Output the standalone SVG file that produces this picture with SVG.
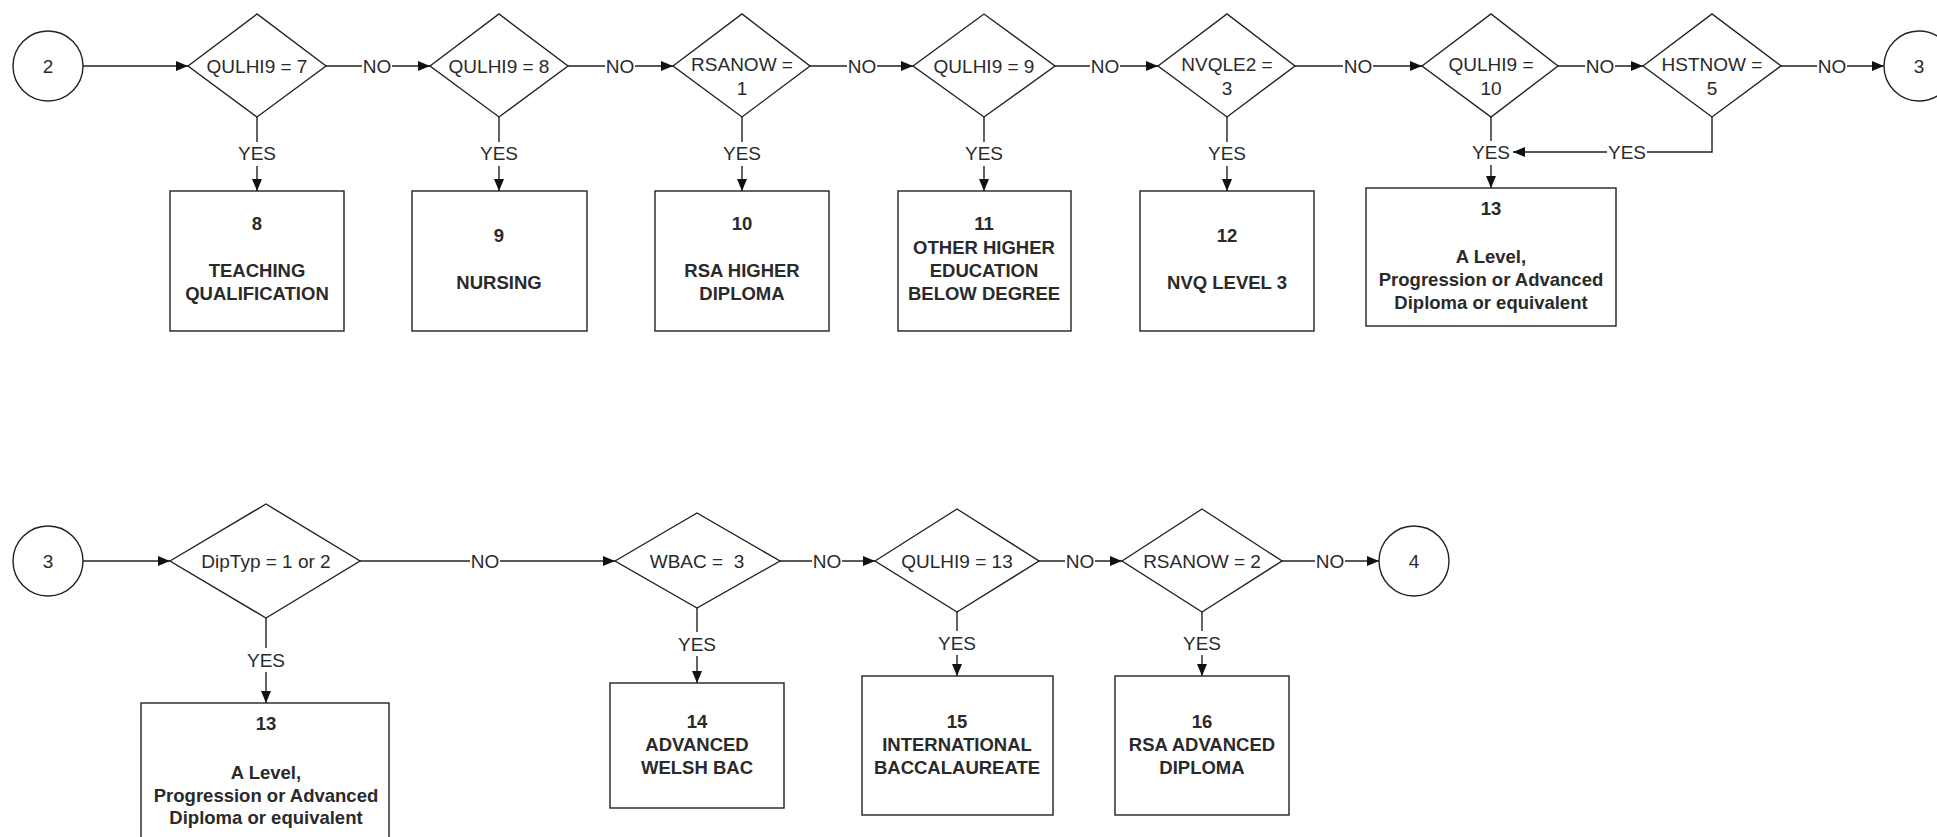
<svg xmlns="http://www.w3.org/2000/svg" width="1937" height="837" viewBox="0 0 1937 837">
<defs>
<marker id="arr" viewBox="0 0 12 10" refX="12" refY="5" markerWidth="12" markerHeight="10" markerUnits="userSpaceOnUse" orient="auto">
<path d="M0,0 L12,5 L0,10 z" fill="#111"/>
</marker>
<style>
.sh{fill:#fff;stroke:#222;stroke-width:1.4}
.c{fill:none;stroke:#222;stroke-width:1.4}
.a{marker-end:url(#arr)}
.bg{fill:#fff;stroke:none}
.t{font-family:"Liberation Sans",Arial,sans-serif;font-size:19px;fill:#2a2a2a;text-anchor:middle}
.b{font-family:"Liberation Sans",Arial,sans-serif;font-size:18.5px;font-weight:bold;fill:#2a2a2a;text-anchor:middle}
</style>
</defs>
<rect width="1937" height="837" fill="#fff"/>

<g id="connectors">
<line class="c a" x1="83" y1="66" x2="188" y2="66"/>
<line class="c a" x1="326" y1="66" x2="430" y2="66"/>
<line class="c a" x1="568" y1="66" x2="673" y2="66"/>
<line class="c a" x1="810" y1="66" x2="913" y2="66"/>
<line class="c a" x1="1055" y1="66" x2="1158" y2="66"/>
<line class="c a" x1="1295" y1="66" x2="1422" y2="66"/>
<line class="c a" x1="1558" y1="66" x2="1643" y2="66"/>
<line class="c a" x1="1781" y1="66" x2="1884" y2="66"/>
<line class="c a" x1="257" y1="117" x2="257" y2="191"/>
<line class="c a" x1="499" y1="117" x2="499" y2="191"/>
<line class="c a" x1="742" y1="117" x2="742" y2="191"/>
<line class="c a" x1="984" y1="117" x2="984" y2="191"/>
<line class="c a" x1="1227" y1="117" x2="1227" y2="191"/>
<line class="c a" x1="1491" y1="117" x2="1491" y2="188"/>
<path class="c a" d="M1712,117 V152 H1513"/>
<line class="c a" x1="83" y1="561" x2="170" y2="561"/>
<line class="c a" x1="360" y1="561" x2="615" y2="561"/>
<line class="c a" x1="780" y1="561" x2="875" y2="561"/>
<line class="c a" x1="1039" y1="561" x2="1122" y2="561"/>
<line class="c a" x1="1282" y1="561" x2="1379" y2="561"/>
<line class="c a" x1="266" y1="618" x2="266" y2="703"/>
<line class="c a" x1="697" y1="608" x2="697" y2="683"/>
<line class="c a" x1="957" y1="612" x2="957" y2="676"/>
<line class="c a" x1="1202" y1="612" x2="1202" y2="676"/>
<rect class="bg" x="362" y="57" width="30" height="18"/>
<rect class="bg" x="605" y="57" width="30" height="18"/>
<rect class="bg" x="847" y="57" width="30" height="18"/>
<rect class="bg" x="1090" y="57" width="30" height="18"/>
<rect class="bg" x="1343" y="57" width="30" height="18"/>
<rect class="bg" x="1585" y="57" width="30" height="18"/>
<rect class="bg" x="1817" y="57" width="30" height="18"/>
<rect class="bg" x="237" y="142" width="40" height="24"/>
<rect class="bg" x="479" y="142" width="40" height="24"/>
<rect class="bg" x="722" y="142" width="40" height="24"/>
<rect class="bg" x="964" y="142" width="40" height="24"/>
<rect class="bg" x="1207" y="142" width="40" height="24"/>
<rect class="bg" x="1471" y="141" width="40" height="24"/>
<rect class="bg" x="1607" y="143" width="40" height="18"/>
<rect class="bg" x="470" y="552" width="30" height="18"/>
<rect class="bg" x="812" y="552" width="30" height="18"/>
<rect class="bg" x="1065" y="552" width="30" height="18"/>
<rect class="bg" x="1315" y="552" width="30" height="18"/>
<rect class="bg" x="246" y="648" width="40" height="24"/>
<rect class="bg" x="677" y="632" width="40" height="24"/>
<rect class="bg" x="937" y="631" width="40" height="24"/>
<rect class="bg" x="1182" y="631" width="40" height="24"/>
<text class="t" x="377" y="73">NO</text>
<text class="t" x="620" y="73">NO</text>
<text class="t" x="862" y="73">NO</text>
<text class="t" x="1105" y="73">NO</text>
<text class="t" x="1358" y="73">NO</text>
<text class="t" x="1600" y="73">NO</text>
<text class="t" x="1832" y="73">NO</text>
<text class="t" x="257" y="160">YES</text>
<text class="t" x="499" y="160">YES</text>
<text class="t" x="742" y="160">YES</text>
<text class="t" x="984" y="160">YES</text>
<text class="t" x="1227" y="160">YES</text>
<text class="t" x="1491" y="159">YES</text>
<text class="t" x="1627" y="159">YES</text>
<text class="t" x="485" y="568">NO</text>
<text class="t" x="827" y="568">NO</text>
<text class="t" x="1080" y="568">NO</text>
<text class="t" x="1330" y="568">NO</text>
<text class="t" x="266" y="667">YES</text>
<text class="t" x="697" y="651">YES</text>
<text class="t" x="957" y="650">YES</text>
<text class="t" x="1202" y="650">YES</text>
</g>

<g id="c2"><circle class="sh" cx="48" cy="66" r="35"/><text class="t" x="48" y="73">2</text></g>
<g id="d1"><polygon class="sh" points="188,66 257,14 326,66 257,117"/><text class="t" x="257" y="73">QULHI9 = 7</text></g>
<g id="d2"><polygon class="sh" points="430,66 499,14 568,66 499,117"/><text class="t" x="499" y="73">QULHI9 = 8</text></g>
<g id="d3"><polygon class="sh" points="673,66 742,14 810,66 742,117"/><text class="t" x="742" y="71">RSANOW =</text><text class="t" x="742" y="95">1</text></g>
<g id="d4"><polygon class="sh" points="913,66 984,14 1055,66 984,117"/><text class="t" x="984" y="73">QULHI9 = 9</text></g>
<g id="d5"><polygon class="sh" points="1158,66 1227,14 1295,66 1227,117"/><text class="t" x="1227" y="71">NVQLE2 =</text><text class="t" x="1227" y="95">3</text></g>
<g id="d6"><polygon class="sh" points="1422,66 1491,14 1558,66 1491,117"/><text class="t" x="1491" y="71">QULHI9 =</text><text class="t" x="1491" y="95">10</text></g>
<g id="d7"><polygon class="sh" points="1643,66 1712,14 1781,66 1712,117"/><text class="t" x="1712" y="71">HSTNOW =</text><text class="t" x="1712" y="95">5</text></g>
<g id="c3a"><circle class="sh" cx="1919" cy="66" r="35"/><text class="t" x="1919" y="73">3</text></g>

<g id="b8"><rect class="sh" x="170" y="191" width="174" height="140"/><text class="b" x="257" y="230">8</text><text class="b" x="257" y="277">TEACHING</text><text class="b" x="257" y="300">QUALIFICATION</text></g>
<g id="b9"><rect class="sh" x="412" y="191" width="175" height="140"/><text class="b" x="499" y="242">9</text><text class="b" x="499" y="289">NURSING</text></g>
<g id="b10"><rect class="sh" x="655" y="191" width="174" height="140"/><text class="b" x="742" y="230">10</text><text class="b" x="742" y="277">RSA HIGHER</text><text class="b" x="742" y="300">DIPLOMA</text></g>
<g id="b11"><rect class="sh" x="898" y="191" width="173" height="140"/><text class="b" x="984" y="230">11</text><text class="b" x="984" y="254">OTHER HIGHER</text><text class="b" x="984" y="277">EDUCATION</text><text class="b" x="984" y="300">BELOW DEGREE</text></g>
<g id="b12"><rect class="sh" x="1140" y="191" width="174" height="140"/><text class="b" x="1227" y="242">12</text><text class="b" x="1227" y="289">NVQ LEVEL 3</text></g>
<g id="b13a"><rect class="sh" x="1366" y="188" width="250" height="138"/><text class="b" x="1491" y="215">13</text><text class="b" x="1491" y="263">A Level,</text><text class="b" x="1491" y="286">Progression or Advanced</text><text class="b" x="1491" y="309">Diploma or equivalent</text></g>

<g id="c3b"><circle class="sh" cx="48" cy="561" r="35"/><text class="t" x="48" y="568">3</text></g>
<g id="d8"><polygon class="sh" points="170,561 266,504 360,561 266,618"/><text class="t" x="266" y="568">DipTyp = 1 or 2</text></g>
<g id="d9"><polygon class="sh" points="615,561 697,513 780,561 697,608"/><text class="t" x="697" y="568" xml:space="preserve">WBAC =  3</text></g>
<g id="d10"><polygon class="sh" points="875,561 957,509 1039,561 957,612"/><text class="t" x="957" y="568">QULHI9 = 13</text></g>
<g id="d11"><polygon class="sh" points="1122,561 1202,509 1282,561 1202,612"/><text class="t" x="1202" y="568">RSANOW = 2</text></g>
<g id="c4"><circle class="sh" cx="1414" cy="561" r="35"/><text class="t" x="1414" y="568">4</text></g>

<g id="b13b"><rect class="sh" x="141" y="703" width="248" height="150"/><text class="b" x="266" y="730">13</text><text class="b" x="266" y="779">A Level,</text><text class="b" x="266" y="802">Progression or Advanced</text><text class="b" x="266" y="824">Diploma or equivalent</text></g>
<g id="b14"><rect class="sh" x="610" y="683" width="174" height="125"/><text class="b" x="697" y="728">14</text><text class="b" x="697" y="751">ADVANCED</text><text class="b" x="697" y="774">WELSH BAC</text></g>
<g id="b15"><rect class="sh" x="862" y="676" width="191" height="139"/><text class="b" x="957" y="728">15</text><text class="b" x="957" y="751">INTERNATIONAL</text><text class="b" x="957" y="774">BACCALAUREATE</text></g>
<g id="b16"><rect class="sh" x="1115" y="676" width="174" height="139"/><text class="b" x="1202" y="728">16</text><text class="b" x="1202" y="751">RSA ADVANCED</text><text class="b" x="1202" y="774">DIPLOMA</text></g>
</svg>
